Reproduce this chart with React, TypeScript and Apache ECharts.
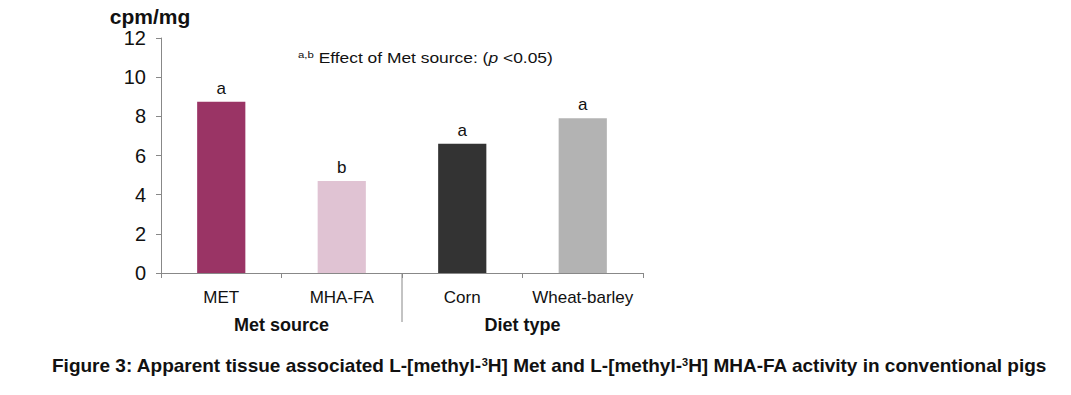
import React, { useEffect, useRef } from "react";
import * as echarts from "echarts";

const categories = ["MET", "MHA-FA", "Corn", "Wheat-barley"];
const values = [8.75, 4.7, 6.6, 7.9];
const letters = ["a", "b", "a", "a"];
const colors = ["#9a3465", "#e0c3d3", "#333333", "#b3b3b3"];
const groups = ["Met source", "Diet type"];
const yTicks = [0, 2, 4, 6, 8, 10, 12];

export default function App() {
  const ref = useRef<HTMLDivElement>(null);
  useEffect(() => {
    const chart = echarts.init(ref.current!, null, { renderer: "svg" });
    const font = "Liberation Sans, Arial, sans-serif";
    chart.setOption({
      animation: false,
      grid: { left: 161, right: 428, top: 38, bottom: 122, containLabel: false },
      xAxis: [
        {
          type: "category",
          data: categories,
          axisLine: { lineStyle: { color: "#888", width: 1 } },
          axisTick: { show: true, length: 5, lineStyle: { color: "#888" } },
          axisLabel: { color: "#111", fontSize: 17, fontFamily: font, margin: 16, interval: 0, hideOverlap: false },
        },
        {
          type: "category",
          position: "bottom",
          data: groups,
          axisLine: { show: false },
          axisTick: { show: false },
          axisLabel: { color: "#111", fontSize: 18, fontWeight: "bold", fontFamily: font, margin: 43, interval: 0 },
        },
      ],
      yAxis: {
        type: "value",
        min: 0,
        max: 12,
        interval: 2,
        name: "cpm/mg",
        nameLocation: "end",
        nameGap: 11,
        nameTextStyle: { color: "#111", fontSize: 21, fontWeight: "bold", fontFamily: font, align: "center", padding: [0, 0, 0, -22] },
        axisLine: { show: true, lineStyle: { color: "#888" } },
        axisTick: { show: true, length: 5, lineStyle: { color: "#888" } },
        splitLine: { show: false },
        axisLabel: {
          color: "#111",
          fontSize: 20,
          fontFamily: font,
          margin: 15,
          formatter: (v: number) => (yTicks.includes(v) ? String(v) : ""),
        },
      },
      series: [
        {
          type: "bar",
          xAxisIndex: 0,
          barWidth: "40%",
          data: values.map((v, i) => ({ value: v, itemStyle: { color: colors[i] } })),
          label: {
            show: true,
            position: "top",
            distance: 5,
            color: "#111",
            fontSize: 17,
            fontFamily: font,
            formatter: (p: any) => letters[p.dataIndex],
          },
        },
      ],
      graphic: [
        {
          type: "line",
          shape: { x1: 402, y1: 273, x2: 402, y2: 322 },
          style: { stroke: "#888", lineWidth: 1 },
        },
        {
          type: "text",
          x: 298,
          y: 50,
          scaleX: 1.2,
          style: {
            text: "{sup|a,b} Effect of Met source: ({it|p} <0.05)",
            rich: {
              sup: { fontSize: 9.5, fontFamily: font, fill: "#111", padding: [0, 0, 7, 0] },
              it: { fontSize: 14.5, fontStyle: "italic", fontFamily: font, fill: "#111" },
            },
            font: "14.5px " + font,
            fill: "#111",
          },
        },
        {
          type: "text",
          x: 52,
          y: 356,
          style: {
            text: "Figure 3: Apparent tissue associated L-[methyl-{sup|3}H] Met and L-[methyl-{sup|3}H] MHA-FA activity in conventional pigs",
            rich: {
              sup: { fontSize: 11, fontWeight: "bold", fontFamily: font, fill: "#111", padding: [0, 0, 7, 0] },
            },
            font: "bold 19px " + font,
            fill: "#111",
          },
        },
      ],
    });
    return () => chart.dispose();
  }, []);
  return <div ref={ref} style={{ width: 1071, height: 395, position: "absolute", left: 0, top: 0, background: "#fff" }} />;
}
